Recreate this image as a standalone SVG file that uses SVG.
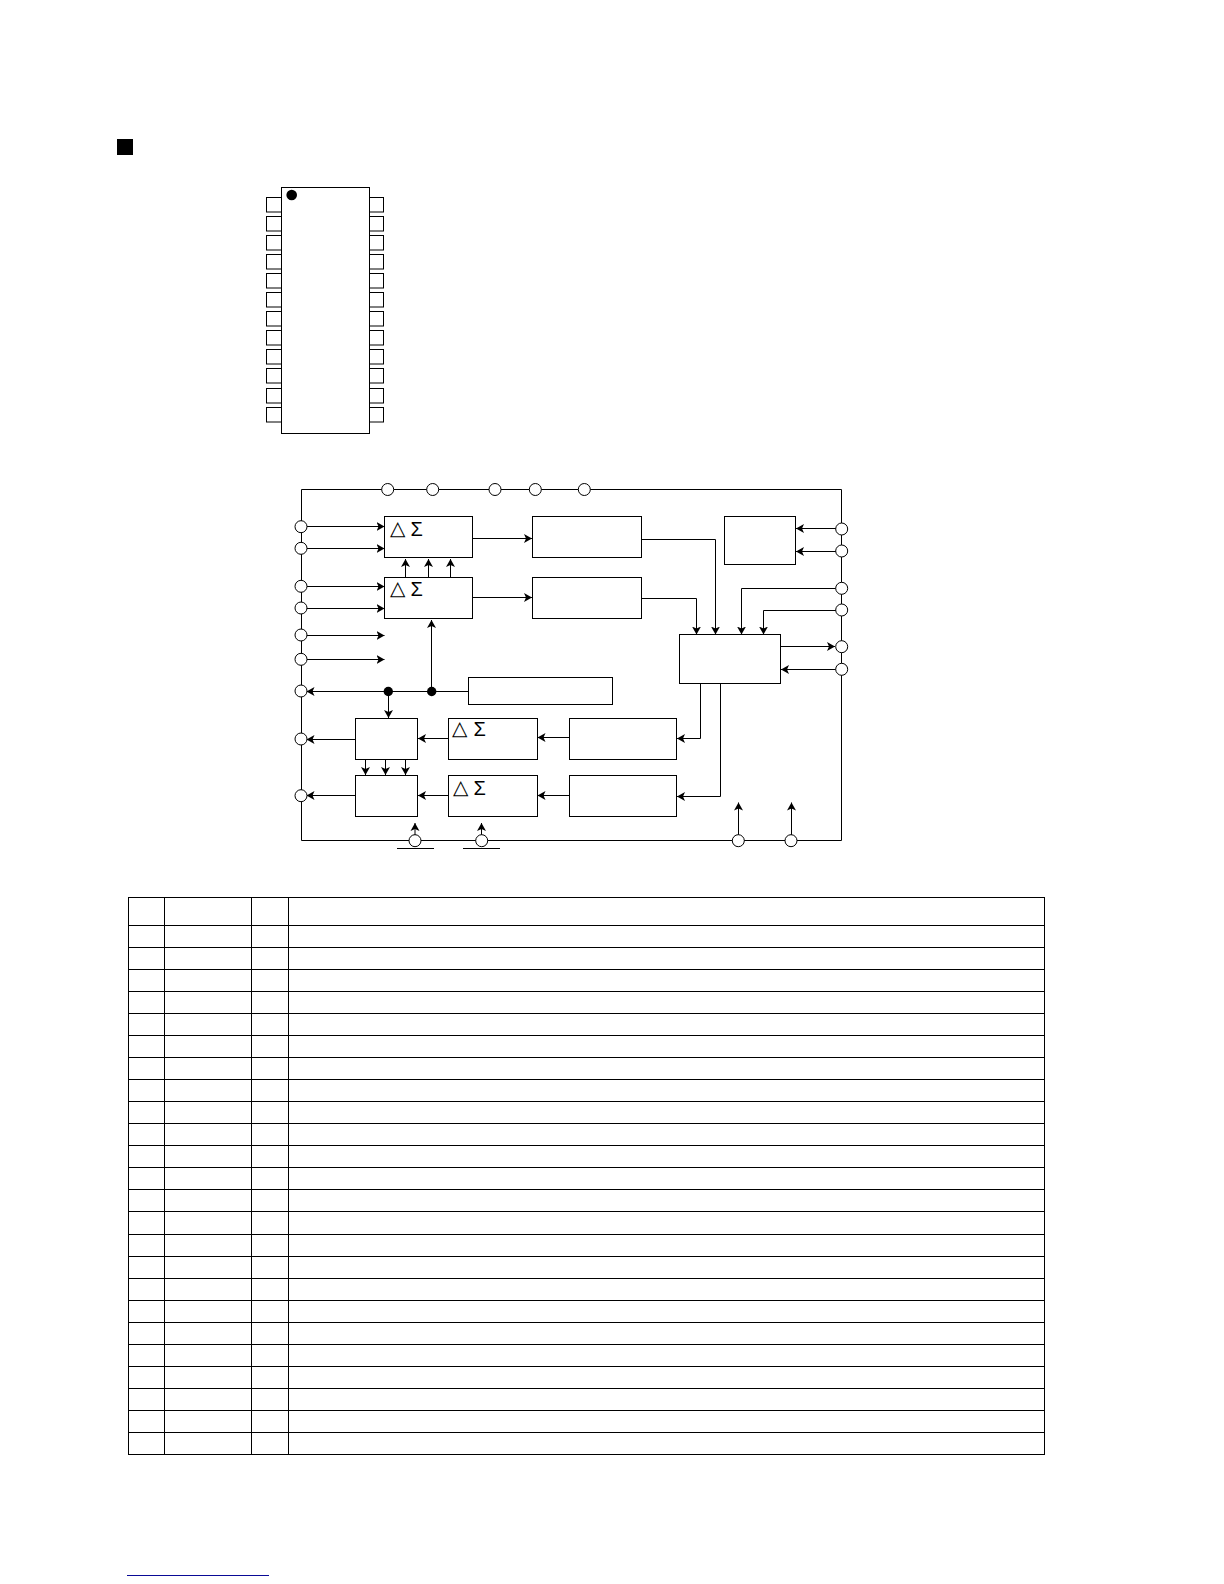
<svg xmlns="http://www.w3.org/2000/svg" width="1224" height="1584" viewBox="0 0 1224 1584">
<style>
.b{fill:#fff;stroke:#000;stroke-width:1}
.l{fill:none;stroke:#000;stroke-width:1}
.a{fill:none;stroke:#000;stroke-width:1;marker-end:url(#ah)}
.p{fill:#fff;stroke:#000;stroke-width:1}
.d{fill:#000}
.t{font-family:"DejaVu Sans",sans-serif;font-size:20px;fill:#000}
.s{font-family:"Liberation Sans",sans-serif;font-size:20px;fill:#000}
</style>
<defs>
<marker id="ah" markerUnits="userSpaceOnUse" markerWidth="10" markerHeight="10" refX="8" refY="5" orient="auto"><path d="M0,0.5 L8,5 L0,9.5 L2,5 Z" fill="#000"/></marker>
<circle id="pin" r="6" class="p"/>
<rect id="lp" width="15" height="14.5" class="b"/>
<rect id="rp" width="14" height="14.5" class="b"/>
</defs>
<rect id="title-mark" x="117" y="139" width="16" height="16" fill="#000"/>
<g id="package">
<g id="pins-left">
<use href="#lp" x="266.5" y="197.5"/><use href="#lp" x="266.5" y="216.5"/><use href="#lp" x="266.5" y="235.5"/><use href="#lp" x="266.5" y="254.5"/><use href="#lp" x="266.5" y="273.5"/><use href="#lp" x="266.5" y="292.5"/><use href="#lp" x="266.5" y="311.5"/><use href="#lp" x="266.5" y="330.5"/><use href="#lp" x="266.5" y="349.5"/><use href="#lp" x="266.5" y="368.5"/><use href="#lp" x="266.5" y="388.5"/><use href="#lp" x="266.5" y="407.5"/>
</g>
<g id="pins-right">
<use href="#rp" x="369.5" y="197.5"/><use href="#rp" x="369.5" y="216.5"/><use href="#rp" x="369.5" y="235.5"/><use href="#rp" x="369.5" y="254.5"/><use href="#rp" x="369.5" y="273.5"/><use href="#rp" x="369.5" y="292.5"/><use href="#rp" x="369.5" y="311.5"/><use href="#rp" x="369.5" y="330.5"/><use href="#rp" x="369.5" y="349.5"/><use href="#rp" x="369.5" y="368.5"/><use href="#rp" x="369.5" y="388.5"/><use href="#rp" x="369.5" y="407.5"/>
</g>
<rect x="281.5" y="187.5" width="88" height="246" class="b"/>
<circle cx="291.7" cy="195" r="5.3" class="d"/>
</g>
<g id="connectors">
<path class="l" d="M301.5,489.5 H841.5 V840.5 H301.5 Z"/>
<path class="a" d="M301,526.5 H384.5"/>
<path class="a" d="M301,548.5 H384.5"/>
<path class="a" d="M301,586.5 H384.5"/>
<path class="a" d="M301,608.5 H384.5"/>
<path class="a" d="M301,635.5 H384.5"/>
<path class="a" d="M301,659.5 H384.5"/>
<path class="a" d="M472.5,538.5 H532"/>
<path class="a" d="M472.5,597.5 H532"/>
<path class="a" d="M405.5,577.5 V559"/>
<path class="a" d="M428.5,577.5 V559"/>
<path class="a" d="M450.5,577.5 V559"/>
<path class="a" d="M431.5,691.5 V620"/>
<path class="a" d="M468,691.5 H306.5"/>
<path class="a" d="M388.5,691 V718"/>
<path class="a" d="M355.5,739.5 H306.5"/>
<path class="a" d="M355.5,795.5 H306.5"/>
<path class="a" d="M448.5,738.5 H418"/>
<path class="a" d="M448.5,795.5 H418"/>
<path class="a" d="M569,737.5 H537.5"/>
<path class="a" d="M569,795.5 H537.5"/>
<path class="a" d="M365.5,759.5 V775"/>
<path class="a" d="M385.5,759.5 V775"/>
<path class="a" d="M405.5,759.5 V775"/>
<path class="a" d="M641.5,539.5 H715.5 V634.5"/>
<path class="a" d="M641.5,598.5 H696.5 V634.5"/>
<path class="a" d="M841.5,588.5 H741.5 V634.5"/>
<path class="a" d="M841.5,610.5 H763.5 V634.5"/>
<path class="a" d="M841.5,528.5 H796"/>
<path class="a" d="M841.5,551.5 H796"/>
<path class="a" d="M780.5,646.5 H835"/>
<path class="a" d="M841.5,669.5 H781"/>
<path class="a" d="M700.5,683.5 V738.5 H677"/>
<path class="a" d="M720.5,683.5 V796.5 H677"/>
<path class="a" d="M415,840 V823"/>
<path class="a" d="M481.5,840 V823"/>
<path class="a" d="M738.5,840 V802.5"/>
<path class="a" d="M791.5,840 V802.5"/>
<path class="l" d="M397,848.5 H434 M463,848.5 H500"/>
</g>
<g id="junctions"><circle cx="388.3" cy="691.5" r="4.7" class="d"/><circle cx="431.7" cy="691.5" r="4.7" class="d"/></g>
<g id="terminals">
<use href="#pin" x="387.7" y="489.5"/><use href="#pin" x="432.7" y="489.5"/><use href="#pin" x="495" y="489.5"/><use href="#pin" x="535.3" y="489.5"/><use href="#pin" x="584.3" y="489.5"/>
<use href="#pin" x="301" y="526.7"/><use href="#pin" x="301" y="548.3"/><use href="#pin" x="301" y="586.3"/><use href="#pin" x="301" y="608"/><use href="#pin" x="301" y="635"/><use href="#pin" x="301" y="659.3"/><use href="#pin" x="301" y="691"/><use href="#pin" x="301" y="739"/><use href="#pin" x="301" y="795.7"/>
<use href="#pin" x="841.7" y="529"/><use href="#pin" x="841.7" y="551"/><use href="#pin" x="841.7" y="588.3"/><use href="#pin" x="841.7" y="610"/><use href="#pin" x="841.7" y="646.7"/><use href="#pin" x="841.7" y="669.3"/>
<use href="#pin" x="415" y="840.7"/><use href="#pin" x="481.7" y="840.7"/><use href="#pin" x="738.3" y="840.7"/><use href="#pin" x="791" y="840.7"/>
</g>
<g id="dsm-1"><rect x="384.5" y="516.5" width="88" height="41" class="b"/><text class="t" x="390" y="535">△</text><text class="s" x="410.5" y="536">Σ</text></g>
<g id="dsm-2"><rect x="384.5" y="577.5" width="88" height="41" class="b"/><text class="t" x="390" y="595">△</text><text class="s" x="410.5" y="596">Σ</text></g>
<g id="block-3"><rect x="532.5" y="516.5" width="109" height="41" class="b"/></g>
<g id="block-4"><rect x="532.5" y="577.5" width="109" height="41" class="b"/></g>
<g id="block-5"><rect x="468.5" y="677.5" width="144" height="27" class="b"/></g>
<g id="block-6"><rect x="355.5" y="718.5" width="62" height="41" class="b"/></g>
<g id="block-7"><rect x="355.5" y="775.5" width="62" height="41" class="b"/></g>
<g id="dsm-3"><rect x="448.5" y="718.5" width="89" height="41" class="b"/><text class="t" x="452" y="735">△</text><text class="s" x="473.5" y="736">Σ</text></g>
<g id="dsm-4"><rect x="448.5" y="775.5" width="89" height="41" class="b"/><text class="t" x="453" y="794">△</text><text class="s" x="473.5" y="795">Σ</text></g>
<g id="block-9"><rect x="569.5" y="718.5" width="107" height="41" class="b"/></g>
<g id="block-10"><rect x="569.5" y="775.5" width="107" height="41" class="b"/></g>
<g id="block-11"><rect x="724.5" y="516.5" width="71" height="48" class="b"/></g>
<g id="block-12"><rect x="679.5" y="634.5" width="101" height="49" class="b"/></g>
<g id="table">
<rect x="128.5" y="897.5" width="916" height="557" class="l"/>
<path class="l" d="M164.5,897.5 V1454.5 M251.5,897.5 V1454.5 M288.5,897.5 V1454.5"/>
<path class="l" d="M128.5,925.5 H1044.5 M128.5,947.5 H1044.5 M128.5,969.5 H1044.5 M128.5,991.5 H1044.5 M128.5,1013.5 H1044.5 M128.5,1035.5 H1044.5 M128.5,1057.5 H1044.5 M128.5,1079.5 H1044.5 M128.5,1101.5 H1044.5 M128.5,1123.5 H1044.5 M128.5,1145.5 H1044.5 M128.5,1167.5 H1044.5 M128.5,1189.5 H1044.5 M128.5,1211.5 H1044.5 M128.5,1234.5 H1044.5 M128.5,1256.5 H1044.5 M128.5,1278.5 H1044.5 M128.5,1300.5 H1044.5 M128.5,1322.5 H1044.5 M128.5,1344.5 H1044.5 M128.5,1366.5 H1044.5 M128.5,1388.5 H1044.5 M128.5,1410.5 H1044.5 M128.5,1432.5 H1044.5"/>
</g>
<path id="footer-rule" d="M127,1575.5 H269" fill="none" stroke="#0a0a96" stroke-width="1"/>
</svg>
